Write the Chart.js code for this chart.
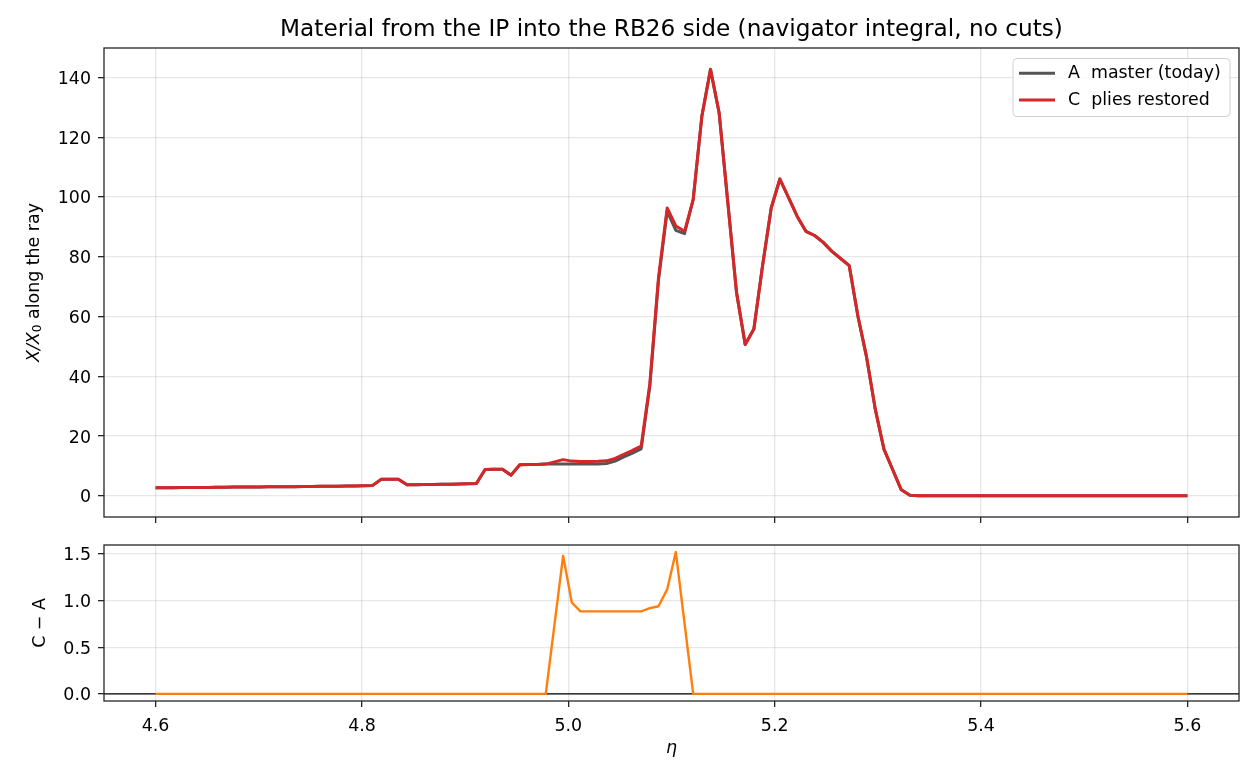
<!DOCTYPE html>
<html lang="en">
<head>
<meta charset="utf-8">
<title>Material from the IP into the RB26 side</title>
<script src="https://cdn.jsdelivr.net/npm/chart.js@4.4.1/dist/chart.umd.min.js"></script>
<style>
  html, body { margin: 0; padding: 0; background: #fff; }
  #wrap { position: relative; width: 1260px; height: 784px; }
  #wrap canvas { position: absolute; left: 0; top: 0; }
</style>
</head>
<body>
<div id="wrap">
  <canvas id="chartTop" width="1260" height="784"></canvas>
  <canvas id="chartDiff" width="1260" height="784"></canvas>
</div>

<script>
// eta sampling: 120 points from 4.6 to 5.6
const etaMin = 4.6, etaMax = 5.6, nPoints = 120;

// X/X0 along the ray, A = master (today)
const masterA = [
  2.7, 2.7, 2.7, 2.75, 2.75, 2.8, 2.8, 2.85, 2.85, 2.9,
  2.9, 2.95, 2.95, 3.0, 3.0, 3.05, 3.05, 3.1, 3.1, 3.15,
  3.2, 3.2, 3.25, 3.3, 3.35, 3.4, 5.5, 5.5, 5.5, 3.7,
  3.7, 3.75, 3.8, 3.85, 3.9, 3.95, 4.0, 4.1, 8.8, 8.9,
  8.9, 6.9, 10.4, 10.5, 10.5, 10.6, 10.6, 10.6, 10.6, 10.6,
  10.6, 10.65, 10.8, 11.6, 13.0, 14.3, 15.7, 36.6, 72.1, 95.2,
  88.8, 87.7, 99.1, 127.0, 142.7, 128.0, 98.0, 68.0, 50.6, 55.8,
  77.0, 96.3, 106.0, 99.8, 93.5, 88.5, 87.1, 84.8, 81.8, 79.4,
  77.0, 60.1, 46.4, 29.0, 15.6, 8.8, 2.0, 0.2, 0, 0,
  0, 0, 0, 0, 0, 0, 0, 0, 0, 0,
  0, 0, 0, 0, 0, 0, 0, 0, 0, 0,
  0, 0, 0, 0, 0, 0, 0, 0, 0, 0
];

// C = plies restored
const restoredC = [
  2.7, 2.7, 2.7, 2.75, 2.75, 2.8, 2.8, 2.85, 2.85, 2.9,
  2.9, 2.95, 2.95, 3.0, 3.0, 3.05, 3.05, 3.1, 3.1, 3.15,
  3.2, 3.2, 3.25, 3.3, 3.35, 3.4, 5.5, 5.5, 5.5, 3.7,
  3.7, 3.75, 3.8, 3.85, 3.9, 3.95, 4.0, 4.1, 8.8, 8.9,
  8.9, 6.9, 10.4, 10.5, 10.5, 10.6, 11.35, 12.1, 11.6, 11.5,
  11.5, 11.55, 11.7, 12.5, 13.9, 15.2, 16.6, 37.5, 73.0, 96.3,
  90.3, 88.5, 99.1, 127.0, 142.7, 128.0, 98.0, 68.0, 50.6, 55.8,
  77.0, 96.3, 106.0, 99.8, 93.5, 88.5, 87.1, 84.8, 81.8, 79.4,
  77.0, 60.1, 46.4, 29.0, 15.6, 8.8, 2.0, 0.2, 0, 0,
  0, 0, 0, 0, 0, 0, 0, 0, 0, 0,
  0, 0, 0, 0, 0, 0, 0, 0, 0, 0,
  0, 0, 0, 0, 0, 0, 0, 0, 0, 0
];

// C - A (lower panel)
const diffCA = [
  0, 0, 0, 0, 0, 0, 0, 0, 0, 0,
  0, 0, 0, 0, 0, 0, 0, 0, 0, 0,
  0, 0, 0, 0, 0, 0, 0, 0, 0, 0,
  0, 0, 0, 0, 0, 0, 0, 0, 0, 0,
  0, 0, 0, 0, 0, 0, 0.74, 1.48, 0.98, 0.885,
  0.885, 0.885, 0.885, 0.885, 0.885, 0.885, 0.885, 0.92, 0.94, 1.12,
  1.52, 0.76, 0, 0, 0, 0, 0, 0, 0, 0,
  0, 0, 0, 0, 0, 0, 0, 0, 0, 0,
  0, 0, 0, 0, 0, 0, 0, 0, 0, 0,
  0, 0, 0, 0, 0, 0, 0, 0, 0, 0,
  0, 0, 0, 0, 0, 0, 0, 0, 0, 0,
  0, 0, 0, 0, 0, 0, 0, 0, 0, 0
];

const xTicks = [4.6, 4.8, 5.0, 5.2, 5.4, 5.6];
const yTicksTop = [0, 20, 40, 60, 80, 100, 120, 140];
const yTicksDiff = [0.0, 0.5, 1.0, 1.5];

const eta = [];
for (let i = 0; i < nPoints; i++) eta.push(etaMin + (etaMax - etaMin) * i / (nPoints - 1));

function pts(values) {
    return values.map((v, i) => ({ x: eta[i], y: v }));
}

const FONT = '"DejaVu Sans", "Liberation Sans", sans-serif';
const TICK_PX = 17.4;

// plot areas, matching the reference layout
const LEFT = 104, RIGHT = 1239;
const TOP1 = 48, BOTTOM1 = 517;
const TOP2 = 545, BOTTOM2 = 701;

const framePlugin = {
    id: 'frame',
    afterDatasetsDraw(chart) {
        const { ctx, chartArea: a } = chart;
        ctx.save();
        ctx.strokeStyle = '#262626';
        ctx.lineWidth = 1.3;
        ctx.strokeRect(a.left, a.top, a.right - a.left, a.bottom - a.top);
        ctx.restore();
    }
};

function xScale(showLabels, height) {
    return {
        type: 'linear',
        min: 4.55,
        max: 5.65,
        afterBuildTicks: (s) => { s.ticks = xTicks.map(v => ({ value: v })); },
        afterFit: (s) => { s.height = height; },
        grid: {
            color: 'rgba(176,176,176,0.3)',
            lineWidth: 1.3,
            tickLength: 6,
            tickColor: '#262626',
            tickWidth: 1.3
        },
        border: { display: false },
        ticks: {
            display: showLabels,
            color: '#000',
            padding: 9,
            maxRotation: 0,
            font: { family: FONT, size: TICK_PX },
            callback: (v) => Number(v).toFixed(1)
        }
    };
}

function yScale(min, max, tickList, fmt) {
    return {
        type: 'linear',
        min: min,
        max: max,
        afterBuildTicks: (s) => { s.ticks = tickList.map(v => ({ value: v })); },
        afterFit: (s) => { s.width = LEFT; },
        grid: {
            color: 'rgba(176,176,176,0.3)',
            lineWidth: 1.3,
            tickLength: 6,
            tickColor: '#262626',
            tickWidth: 1.3
        },
        border: { display: false },
        ticks: {
            color: '#000',
            padding: 7,
            labelOffset: 2,
            font: { family: FONT, size: TICK_PX },
            callback: fmt
        }
    };
}

// title, y label and legend of the upper panel
const topTextPlugin = {
    id: 'topText',
    afterDraw(chart) {
        const ctx = chart.ctx;
        const a = chart.chartArea;
        ctx.save();
        ctx.fillStyle = '#000';
        ctx.textAlign = 'center';
        ctx.textBaseline = 'middle';
        ctx.font = '23.2px ' + FONT;
        ctx.fillText('Material from the IP into the RB26 side (navigator integral, no cuts)', (a.left + a.right) / 2, 30);

        // y label: X/X_0 along the ray
        ctx.translate(34, (a.top + a.bottom) / 2);
        ctx.rotate(-Math.PI / 2);
        const big = 'italic ' + TICK_PX + 'px ' + FONT;
        const sub = (TICK_PX * 0.7) + 'px ' + FONT;
        const norm = TICK_PX + 'px ' + FONT;
        const parts = [
            { t: 'X/X', f: big, dy: 0 },
            { t: '0', f: sub, dy: 3.5 },
            { t: ' along the ray', f: norm, dy: 0 }
        ];
        let total = 0;
        parts.forEach(p => { ctx.font = p.f; p.w = ctx.measureText(p.t).width; total += p.w; });
        let x = -total / 2;
        ctx.textAlign = 'left';
        parts.forEach(p => { ctx.font = p.f; ctx.fillText(p.t, x, p.dy); x += p.w; });
        ctx.restore();

        // legend
        ctx.save();
        const bx = 1013, by = 58.5, bw = 217, bh = 58;
        ctx.beginPath();
        ctx.roundRect(bx, by, bw, bh, 4);
        ctx.fillStyle = 'rgba(255,255,255,0.8)';
        ctx.fill();
        ctx.strokeStyle = '#d0d0d0';
        ctx.lineWidth = 1;
        ctx.stroke();
        const rows = [73.3, 100];
        chart.data.datasets.forEach((ds, i) => {
            ctx.beginPath();
            ctx.moveTo(1019, rows[i]);
            ctx.lineTo(1055, rows[i]);
            ctx.strokeStyle = ds.borderColor;
            ctx.lineWidth = ds.borderWidth;
            ctx.stroke();
            ctx.fillStyle = '#000';
            ctx.font = TICK_PX + 'px ' + FONT;
            ctx.textAlign = 'left';
            ctx.textBaseline = 'middle';
            ctx.fillText(ds.label, 1068, rows[i]);
        });
        ctx.restore();
    }
};

// zero line, x label and y label of the lower panel
const diffTextPlugin = {
    id: 'diffText',
    beforeDatasetsDraw(chart) {
        const ctx = chart.ctx;
        const a = chart.chartArea;
        const y0 = chart.scales.y.getPixelForValue(0);
        ctx.save();
        ctx.strokeStyle = '#000';
        ctx.lineWidth = 1.1;
        ctx.beginPath();
        ctx.moveTo(a.left, y0);
        ctx.lineTo(a.right, y0);
        ctx.stroke();
        ctx.restore();
    },
    afterDraw(chart) {
        const ctx = chart.ctx;
        const a = chart.chartArea;
        ctx.save();
        ctx.fillStyle = '#000';
        ctx.textAlign = 'center';
        ctx.textBaseline = 'middle';
        ctx.font = 'italic ' + TICK_PX + 'px ' + FONT;
        ctx.fillText('η', (a.left + a.right) / 2, 748);
        ctx.translate(40, (a.top + a.bottom) / 2);
        ctx.rotate(-Math.PI / 2);
        ctx.font = TICK_PX + 'px ' + FONT;
        ctx.fillText('C − A', 0, 0);
        ctx.restore();
    }
};

new Chart(document.getElementById('chartTop'), {
    type: 'line',
    data: {
        datasets: [
            {
                label: 'A  master (today)',
                data: pts(masterA),
                borderColor: '#555555',
                borderWidth: 3,
                pointRadius: 0,
                tension: 0,
                borderJoinStyle: 'round',
                order: 1
            },
            {
                label: 'C  plies restored',
                data: pts(restoredC),
                borderColor: '#d62728',
                borderWidth: 3,
                pointRadius: 0,
                tension: 0,
                borderJoinStyle: 'round',
                order: 0
            }
        ]
    },
    options: {
        responsive: false,
        animation: false,
        devicePixelRatio: 1,
        layout: { padding: { left: 0, top: TOP1, right: 1260 - RIGHT, bottom: 0 } },
        plugins: { legend: { display: false }, title: { display: false }, tooltip: { enabled: false } },
        scales: {
            x: xScale(false, 784 - BOTTOM1),
            y: yScale(-7.1, 149.85, yTicksTop, (v) => String(v))
        }
    },
    plugins: [framePlugin, topTextPlugin]
});

new Chart(document.getElementById('chartDiff'), {
    type: 'line',
    data: {
        datasets: [
            {
                label: 'C − A',
                data: pts(diffCA),
                borderColor: '#ff7f0e',
                borderWidth: 2.4,
                pointRadius: 0,
                tension: 0,
                borderJoinStyle: 'round'
            }
        ]
    },
    options: {
        responsive: false,
        animation: false,
        devicePixelRatio: 1,
        layout: { padding: { left: 0, top: TOP2, right: 1260 - RIGHT, bottom: 0 } },
        plugins: { legend: { display: false }, title: { display: false }, tooltip: { enabled: false } },
        scales: {
            x: xScale(true, 784 - BOTTOM2),
            y: yScale(-0.076, 1.596, yTicksDiff, (v) => Number(v).toFixed(1))
        }
    },
    plugins: [framePlugin, diffTextPlugin]
});
</script>
</body>
</html>
